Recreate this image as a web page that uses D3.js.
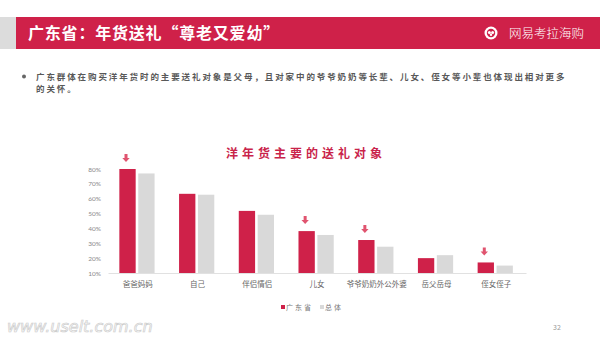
<!DOCTYPE html>
<html>
<head>
<meta charset="utf-8">
<script src="https://cdn.jsdelivr.net/npm/d3@7/dist/d3.min.js"></script>
<style>
  html, body { margin: 0; padding: 0; background: #fff; }
  svg { display: block; font-family: "Noto Sans CJK SC", "Noto Sans", sans-serif; }
</style>
</head>
<body>
<svg id="chart" width="600" height="337"></svg>
<script>
// Gift recipients of imported new-year goods: Guangdong vs. overall (%)
const categories = ["爸爸妈妈", "自己", "伴侣情侣", "儿女", "爷爷奶奶外公外婆", "岳父岳母", "侄女侄子"];
const guangdong = [80, 63.3, 51.8, 38.2, 32.2, 20, 17.1];
const overall   = [77, 62.7, 49.2, 35.6, 27.7, 22, 15];
const highlighted = ["爸爸妈妈", "儿女", "爷爷奶奶外公外婆", "侄女侄子"];
const yTicks = [10, 20, 30, 40, 50, 60, 70, 80];
const seriesNames = ["广东省", "总体"];

const RED = "#cf2149";
const GRAY = "#d9d9d9";
const ARROW = "#e0546f";

const svg = d3.select("#chart");

// ---- page header ----
svg.append("rect").attr("x", 0).attr("y", 17).attr("width", 16).attr("height", 32).attr("fill", "#dcdcdc");
svg.append("rect").attr("x", 16).attr("y", 17).attr("width", 584).attr("height", 32).attr("fill", RED);
svg.append("text").attr("x", 28).attr("y", 39)
  .attr("fill", "#fff").attr("font-size", 16).attr("font-weight", "bold")
  .attr("letter-spacing", 0.8)
  .text("广东省：年货送礼“尊老又爱幼”");

// brand mark
const logo = svg.append("g").attr("transform", "translate(491,33)");
logo.append("circle").attr("r", 6.5).attr("fill", "#fff");
logo.append("circle").attr("r", 4.2).attr("fill", RED);
logo.append("circle").attr("cx", -1.6).attr("cy", -0.6).attr("r", 1.5).attr("fill", "#fff");
logo.append("circle").attr("cx", 1.6).attr("cy", -0.6).attr("r", 1.5).attr("fill", "#fff");
logo.append("circle").attr("cx", 0).attr("cy", 1.8).attr("r", 1.2).attr("fill", "#fff");
svg.append("text").attr("x", 509).attr("y", 38)
  .attr("fill", "#fff").attr("font-size", 12.5).attr("font-weight", 300)
  .text("网易考拉海购");

// ---- bullet note ----
svg.append("circle").attr("cx", 24).attr("cy", 76.5).attr("r", 2).attr("fill", "#666");
const note = svg.append("text").attr("fill", "#595959").attr("font-size", 8.5)
  .attr("font-weight", "bold").attr("letter-spacing", 1.9);
note.append("tspan").attr("x", 36).attr("y", 79.5)
  .text("广东群体在购买洋年货时的主要送礼对象是父母，且对家中的爷爷奶奶等长辈、儿女、侄女等小辈也体现出相对更多");
note.append("tspan").attr("x", 36).attr("y", 91.5).text("的关怀。");

// ---- chart ----
svg.append("text").attr("x", 306).attr("y", 158).attr("text-anchor", "middle")
  .attr("fill", "#c9234a").attr("font-size", 12).attr("font-weight", "bold")
  .attr("letter-spacing", 4)
  .text("洋年货主要的送礼对象");

const x0 = d3.scaleBand().domain(categories).range([108, 526]).paddingInner(0).paddingOuter(0);
const bw = x0.bandwidth();
const x1 = d3.scaleBand().domain(seriesNames).range([bw * 0.19, bw * 0.78]).paddingInner(0.137);
const y = d3.scaleLinear().domain([10, 80]).range([273, 169]);

// y axis labels only (no axis line)
const yAxis = svg.append("g").attr("transform", "translate(101,0)")
  .call(d3.axisLeft(y).tickValues(yTicks).tickFormat(d => d + "%").tickSize(0).tickPadding(0));
yAxis.select(".domain").remove();
yAxis.selectAll("text").attr("fill", "#8a8a8a").attr("font-size", 6.5)
  .attr("font-family", "Lato, 'DejaVu Sans', sans-serif");

// bars
const rows = categories.map((c, i) => ({ cat: c, vals: [guangdong[i], overall[i]] }));
const groups = svg.append("g").selectAll("g").data(rows).join("g")
  .attr("transform", d => `translate(${x0(d.cat)},0)`);
groups.selectAll("rect").data(d => d.vals.map((v, k) => ({ v, s: seriesNames[k] }))).join("rect")
  .attr("x", d => x1(d.s))
  .attr("width", x1.bandwidth())
  .attr("y", d => y(d.v))
  .attr("height", d => y(10) - y(d.v))
  .attr("fill", d => d.s === "广东省" ? RED : GRAY);

// highlight arrows above the Guangdong bar
groups.filter(d => highlighted.includes(d.cat)).each(function(d) {
  const cx = x1("广东省") + x1.bandwidth() / 2 - 1.5;
  const top = y(d.vals[0]) - 15;
  d3.select(this).append("path")
    .attr("d", `M${cx - 1.5},${top} h3 v4 h2.2 l-3.7,4 l-3.7,-4 h2.2 z`)
    .attr("fill", ARROW);
});

// x axis
const xAxis = svg.append("g").attr("transform", `translate(0,${y(10)})`)
  .call(d3.axisBottom(x0).tickSize(0).tickPadding(9));
xAxis.select(".domain").attr("stroke", "#d9d9d9").attr("stroke-width", 0.8);
xAxis.selectAll("text").attr("fill", "#666").attr("font-size", 7.5)
  .attr("font-family", "'Noto Sans CJK SC', sans-serif");

// legend
const legend = svg.append("g").attr("transform", "translate(281,307)");
seriesNames.forEach((name, i) => {
  const g = legend.append("g").attr("transform", `translate(${i * 39},0)`);
  g.append("rect").attr("x", 0).attr("y", -2).attr("width", 4).attr("height", 4)
    .attr("fill", i === 0 ? RED : GRAY);
  g.append("text").attr("x", 5).attr("y", 2.6).attr("fill", "#777")
    .attr("font-size", 7).attr("letter-spacing", 2).text(name);
});

// footer
svg.append("text").attr("x", 7).attr("y", 332)
  .attr("font-size", 16).attr("font-style", "italic")
  .attr("font-family", "'DejaVu Sans', sans-serif")
  .attr("fill", "#fff").attr("stroke", "#cdcdcd").attr("stroke-width", 0.7)
  .text("www.uselt.com.cn");
svg.append("text").attr("x", 553).attr("y", 330)
  .attr("fill", "#9a9a9a").attr("font-size", 7).text("32");
</script>
</body>
</html>
